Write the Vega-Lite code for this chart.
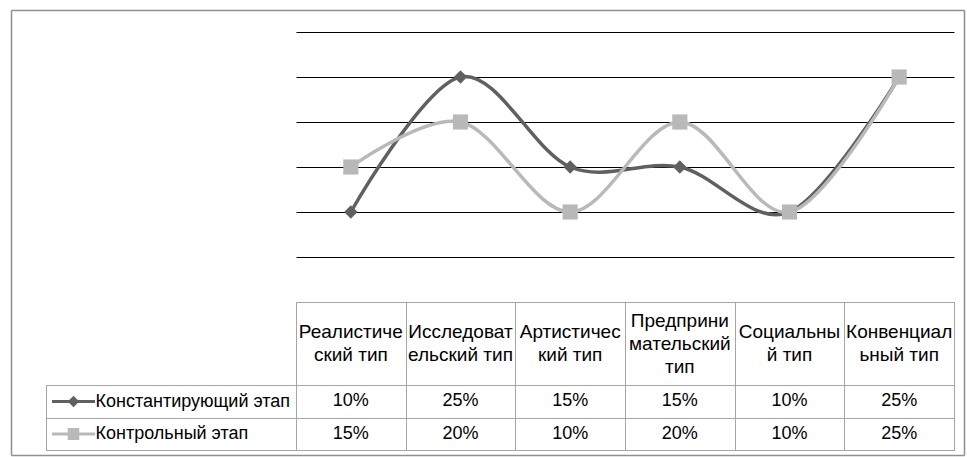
{
  "$schema": "https://vega.github.io/schema/vega-lite/v6.json",
  "background": "white",
  "padding": {"left": 11, "top": 10, "right": 0, "bottom": 0},
  "spacing": 0,
  "columns": 2,
  "align": "each",
  "bounds": "flush",
  "config": {"font": "Liberation Sans", "text": {"color": "#000000"}},
  "datasets": {
    "table": [
      {"category": "Реалистический тип", "series": "Константирующий этап", "value": 0.10},
      {"category": "Исследовательский тип", "series": "Константирующий этап", "value": 0.25},
      {"category": "Артистический тип", "series": "Константирующий этап", "value": 0.15},
      {"category": "Предпринимательский тип", "series": "Константирующий этап", "value": 0.15},
      {"category": "Социальный тип", "series": "Константирующий этап", "value": 0.10},
      {"category": "Конвенциальный тип", "series": "Константирующий этап", "value": 0.25},
      {"category": "Реалистический тип", "series": "Контрольный этап", "value": 0.15},
      {"category": "Исследовательский тип", "series": "Контрольный этап", "value": 0.20},
      {"category": "Артистический тип", "series": "Контрольный этап", "value": 0.10},
      {"category": "Предпринимательский тип", "series": "Контрольный этап", "value": 0.20},
      {"category": "Социальный тип", "series": "Контрольный этап", "value": 0.10},
      {"category": "Конвенциальный тип", "series": "Контрольный этап", "value": 0.25}
    ],
    "cats": [
      {"category": "Реалистический тип", "header": "Реалистиче\nский тип"},
      {"category": "Исследовательский тип", "header": "Исследоват\nельский тип"},
      {"category": "Артистический тип", "header": "Артистичес\nкий тип"},
      {"category": "Предпринимательский тип", "header": "Предприни\nмательский\nтип"},
      {"category": "Социальный тип", "header": "Социальны\nй тип"},
      {"category": "Конвенциальный тип", "header": "Конвенциал\nьный тип"}
    ],
    "seriesList": [
      {"series": "Константирующий этап"},
      {"series": "Контрольный этап"}
    ]
  },
  "concat": [
    {
      "width": 250, "height": 270,
      "data": {"values": []},
      "view": {"stroke": null},
      "mark": "point",
      "encoding": {
        "x": {"field": "fx", "type": "quantitative",
          "scale": {"domain": [0, 1], "range": [-35, 918]},
          "axis": {"orient": "top", "offset": 22, "domain": true, "domainColor": "#8f8f8f", "domainWidth": 1.5, "labels": false, "ticks": false, "grid": false, "title": null}},
        "y": {"field": "fy", "type": "quantitative",
          "scale": {"domain": [0, 1], "range": [423, -22]},
          "axis": {"orient": "left", "offset": 35, "domain": true, "domainColor": "#8f8f8f", "domainWidth": 1.5, "labels": false, "ticks": false, "grid": false, "title": null}}
      }
    },
    {
      "width": 658, "height": 270,
      "data": {"name": "table"},
      "view": {"stroke": null},
      "encoding": {
        "x": {"field": "category", "type": "nominal", "sort": null, "axis": null, "scale": {"type": "point", "padding": 0.5}},
        "y": {"field": "value", "type": "quantitative",
          "scale": {"domain": [0, 0.3], "nice": false, "zero": true},
          "axis": {"values": [0.05, 0.1, 0.15, 0.2, 0.25, 0.3], "grid": true, "gridColor": "#000000", "gridWidth": 1.2, "gridOpacity": 1, "labels": false, "ticks": false, "domain": false, "title": null}},
        "color": {"field": "series", "type": "nominal", "sort": null,
          "scale": {"domain": ["Константирующий этап", "Контрольный этап"], "range": ["#606060", "#b9b9b9"]},
          "legend": {
            "orient": "none", "legendX": 18.5, "legendY": 360.5, "title": null, "padding": 0,
            "symbolSize": 100, "symbolStrokeWidth": 0, "labelFontSize": 18, "labelOffset": 13,
            "rowPadding": 14.5, "labelLimit": 0, "labelColor": "#000000", "labelFont": "Liberation Sans",
            "encode": {"symbols": {"update": {
              "shape": {"signal": "datum.value === 'Константирующий этап' ? 'M-4.3,-0.3L4.3,-0.3L4.3,0.3L-4.3,0.3Z M0,-1.15L1.15,0L0,1.15L-1.15,0Z' : 'M-4.3,-0.3L4.3,-0.3L4.3,0.3L-4.3,0.3Z M-1.15,-1.2L1.15,-1.2L1.15,1.2L-1.15,1.2Z'"},
              "fill": {"signal": "datum.value === 'Константирующий этап' ? '#606060' : '#b9b9b9'"},
              "fillOpacity": {"value": 1},
              "opacity": {"value": 1},
              "strokeWidth": {"value": 0}
            }}}
          }}
      },
      "layer": [
        {"mark": {"type": "line", "interpolate": "cardinal", "strokeWidth": 3.5}},
        {"transform": [{"filter": "datum.series === 'Константирующий этап'"}],
         "mark": {"type": "point", "shape": "diamond", "filled": true, "opacity": 1, "size": 180}},
        {"transform": [{"filter": "datum.series === 'Контрольный этап'"}],
         "mark": {"type": "point", "shape": "square", "filled": true, "opacity": 1, "size": 230}}
      ]
    },
    {
      "width": 250, "height": 83,
      "data": {"values": []},
      "view": {"stroke": null},
      "mark": "point",
      "encoding": {
        "x": {"field": "fx", "type": "quantitative",
          "scale": {"domain": [0, 1], "range": [-35, 918]},
          "axis": {"orient": "bottom", "offset": 70, "domain": true, "domainColor": "#8f8f8f", "domainWidth": 1.5, "labels": false, "ticks": false, "grid": false, "title": null}},
        "y": {"field": "fy", "type": "quantitative",
          "scale": {"domain": [0, 1], "range": [153, -292]},
          "axis": {"orient": "right", "offset": 668, "domain": true, "domainColor": "#8f8f8f", "domainWidth": 1.5, "labels": false, "ticks": false, "grid": false, "title": null}}
      }
    },
    {
      "width": 658, "height": 83,
      "data": {"name": "cats"},
      "view": {"stroke": "#a5a5a5"},
      "encoding": {
        "x": {"field": "category", "type": "nominal",
          "scale": {"type": "band", "paddingInner": 0, "paddingOuter": 0,
            "domain": ["Реалистический тип", "Исследовательский тип", "Артистический тип", "Предпринимательский тип", "Социальный тип", "Конвенциальный тип"]},
          "axis": {"tickBand": "extent", "grid": true, "gridColor": "#a5a5a5", "gridWidth": 1, "labels": false, "ticks": false, "domain": false, "title": null}},
        "text": {"field": "header"}
      },
      "layer": [
        {"transform": [{"filter": "length(split(datum.header, '\\n')) === 2"}],
         "mark": {"type": "text", "fontSize": 19, "lineHeight": 23, "lineBreak": "\n", "baseline": "middle", "dy": -11.5}},
        {"transform": [{"filter": "length(split(datum.header, '\\n')) === 3"}],
         "mark": {"type": "text", "fontSize": 19, "lineHeight": 23, "lineBreak": "\n", "baseline": "middle", "dy": -23}}
      ]
    },
    {
      "width": 250, "height": 65,
      "data": {"name": "seriesList"},
      "view": {"stroke": "#a5a5a5"},
      "mark": {"type": "rect", "fillOpacity": 0},
      "encoding": {
        "y": {"field": "series", "type": "nominal", "sort": null,
          "scale": {"type": "band", "paddingInner": 0, "paddingOuter": 0},
          "axis": {"tickBand": "extent", "grid": true, "gridColor": "#a5a5a5", "gridWidth": 1, "labels": false, "ticks": false, "domain": false, "title": null}}
      }
    },
    {
      "width": 658, "height": 65,
      "data": {"name": "table"},
      "view": {"stroke": "#a5a5a5"},
      "mark": {"type": "text", "fontSize": 18, "baseline": "middle"},
      "encoding": {
        "x": {"field": "category", "type": "nominal", "sort": null,
          "scale": {"type": "band", "paddingInner": 0, "paddingOuter": 0},
          "axis": {"tickBand": "extent", "grid": true, "gridColor": "#a5a5a5", "gridWidth": 1, "labels": false, "ticks": false, "domain": false, "title": null}},
        "y": {"field": "series", "type": "nominal", "sort": null,
          "scale": {"type": "band", "paddingInner": 0, "paddingOuter": 0},
          "axis": {"tickBand": "extent", "grid": true, "gridColor": "#a5a5a5", "gridWidth": 1, "labels": false, "ticks": false, "domain": false, "title": null}},
        "text": {"field": "value", "type": "quantitative", "format": ".0%"}
      }
    }
  ]
}
